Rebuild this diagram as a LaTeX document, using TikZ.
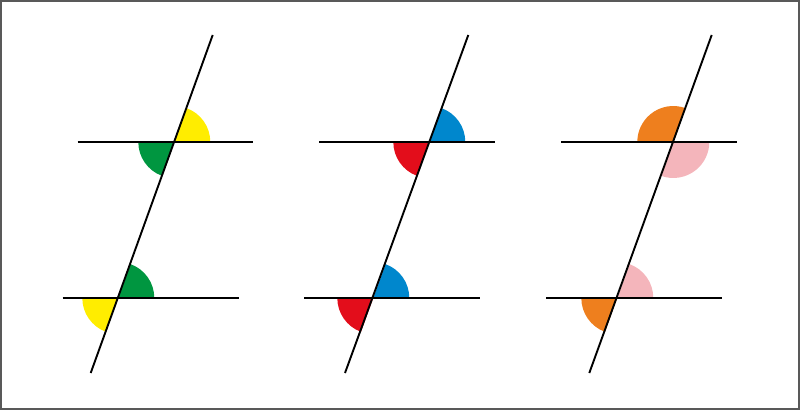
\documentclass[tikz,border=0pt]{standalone}
\definecolor{angYellow}{HTML}{FFED00}
\definecolor{angGreen}{HTML}{009640}
\definecolor{angRed}{HTML}{E30D1B}
\definecolor{angBlue}{HTML}{0087CD}
\definecolor{angOrange}{HTML}{EE7F1E}
\definecolor{angPink}{HTML}{F4B5BB}
\newcommand{\wedgefill}[4]{\fill[#1] (#2) -- ++(#3:36) arc[start angle=#3,end angle=#4,radius=36] -- cycle;}

\begin{document}
\begin{tikzpicture}[x=1pt,y=1pt,line/.style={line width=1.9pt,black}]
 \useasboundingbox (0,0) rectangle (800,410);
 \draw[black!65,line width=2pt] (1,1) rectangle (799,409);
 % left panel
 \coordinate (a_up) at (174.3,268);
 \coordinate (a_lo) at (118.3,112);
 \coordinate (a_top) at (212.7,375);
 \coordinate (a_bot) at (90.7,37);
 \wedgefill{angYellow}{a_up}{0}{70}
 \wedgefill{angGreen}{a_up}{180}{250}
 \wedgefill{angGreen}{a_lo}{0}{70}
 \wedgefill{angYellow}{a_lo}{180}{250}
 \draw[line] (77.7,268) -- (a_up) -- (253,268);
 \draw[line] (62.7,112) -- (a_lo) -- (239,112);
 \draw[line] (a_bot) -- (a_top);
 % middle panel
 \coordinate (b_up) at (429.3,268);
 \coordinate (b_lo) at (373.3,112);
 \coordinate (b_top) at (468.3,375);
 \coordinate (b_bot) at (345,37);
 \wedgefill{angBlue}{b_up}{0}{70}
 \wedgefill{angRed}{b_up}{180}{250}
 \wedgefill{angBlue}{b_lo}{0}{70}
 \wedgefill{angRed}{b_lo}{180}{250}
 \draw[line] (319.3,268) -- (b_up) -- (495,268);
 \draw[line] (304.3,112) -- (b_lo) -- (480,112);
 \draw[line] (b_bot) -- (b_top);
 % right panel
 \coordinate (c_up) at (673.3,268);
 \coordinate (c_lo) at (617.3,112);
 \coordinate (c_top) at (711.7,375);
 \coordinate (c_bot) at (589.3,37);
 \wedgefill{angOrange}{c_up}{70}{180}
 \wedgefill{angPink}{c_up}{250}{360}
 \wedgefill{angPink}{c_lo}{0}{70}
 \wedgefill{angOrange}{c_lo}{180}{250}
 \draw[line] (561,268) -- (c_up) -- (736.7,268);
 \draw[line] (546,112) -- (c_lo) -- (722.3,112);
 \draw[line] (c_bot) -- (c_top);
\end{tikzpicture}
\end{document}
